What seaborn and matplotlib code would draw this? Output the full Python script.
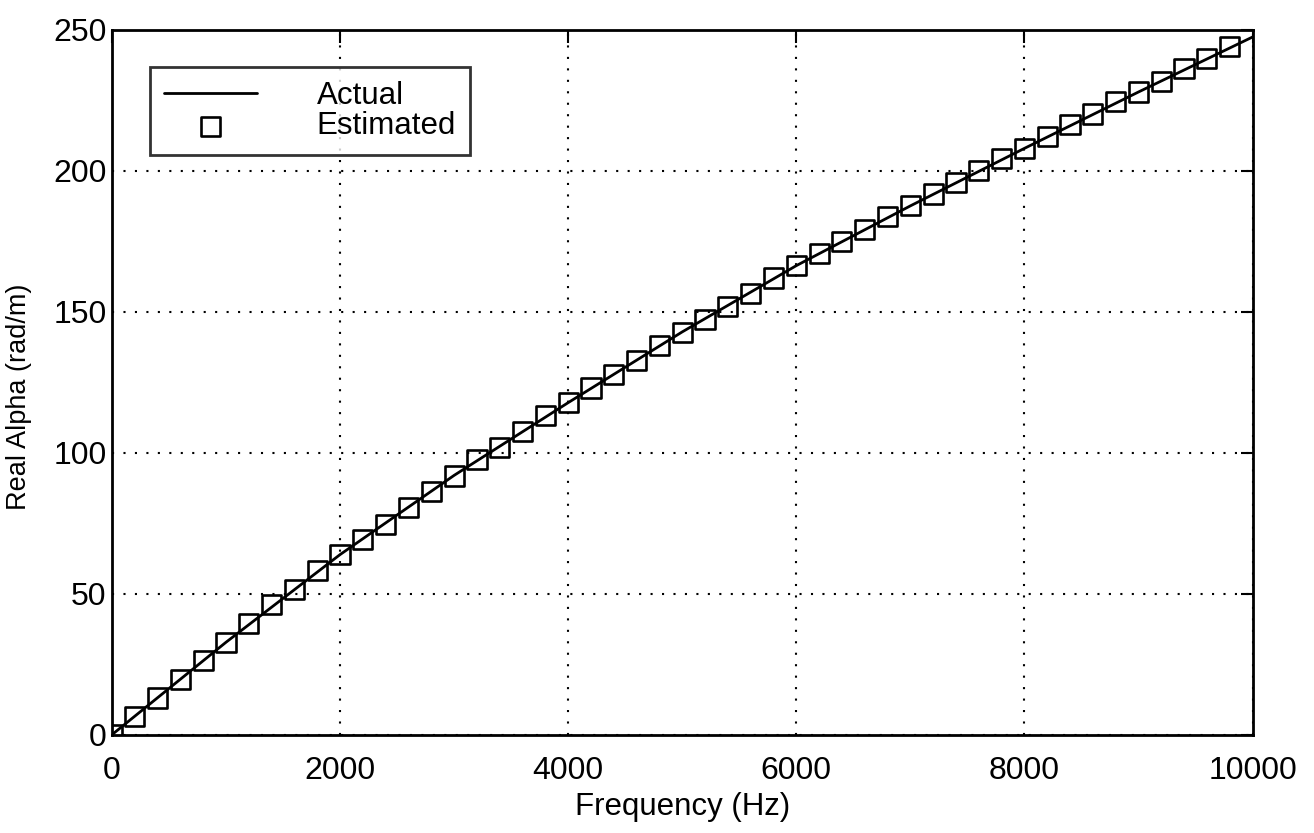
import numpy as np
import pandas as pd
import matplotlib
matplotlib.use("Agg")
import matplotlib.pyplot as plt
import seaborn as sns

# actual curve (Hz -> rad/m)
freq_actual = [0, 1000, 2000, 3000, 4000, 5000, 6000, 7000, 8000, 9000, 10000]
alpha_actual = [0, 32.8, 63.9, 92.0, 117.8, 142.9, 166.4, 187.6, 208.0, 228.0, 247.5]

# estimated points, every 200 Hz
freq_est = [0, 200, 400, 600, 800, 1000, 1200, 1400, 1600, 1800,
            2000, 2200, 2400, 2600, 2800, 3000, 3200, 3400, 3600, 3800,
            4000, 4200, 4400, 4600, 4800, 5000, 5200, 5400, 5600, 5800,
            6000, 6200, 6400, 6600, 6800, 7000, 7200, 7400, 7600, 7800,
            8000, 8200, 8400, 8600, 8800, 9000, 9200, 9400, 9600, 9800]
alpha_est = [0, 6.5, 13.0, 19.7, 26.2, 32.8, 39.6, 46.2, 51.5, 58.2,
             63.9, 69.3, 74.6, 80.5, 86.4, 91.8, 97.6, 102.0, 107.6, 113.2,
             117.8, 123.0, 127.8, 132.9, 138.1, 142.8, 147.4, 152.0, 156.6, 162.0,
             166.4, 170.8, 174.9, 179.2, 183.8, 187.6, 191.8, 196.0, 200.2, 204.3,
             208.0, 212.3, 216.4, 220.2, 224.6, 228.0, 231.8, 236.2, 240.0, 244.0]

x_ticks = [0, 2000, 4000, 6000, 8000, 10000]
y_ticks = [0, 50, 100, 150, 200, 250]

df_actual = pd.DataFrame({"freq": freq_actual, "alpha": alpha_actual})
df_est = pd.DataFrame({"freq": freq_est, "alpha": alpha_est})

sns.set_theme(style="white")
plt.rcParams["font.family"] = ["Liberation Sans", "DejaVu Sans"]
plt.rcParams.update({"text.color": "black", "axes.labelcolor": "black",
                     "xtick.color": "black", "ytick.color": "black"})

fig = plt.figure(figsize=(13.14, 8.33), dpi=100)
ax = fig.add_axes([0.0852, 0.118, 0.868, 0.846])

sns.lineplot(data=df_actual, x="freq", y="alpha", ax=ax, color="black",
             linewidth=2.0, label="Actual")
sns.scatterplot(data=df_est, x="freq", y="alpha", ax=ax, marker="s", s=190,
                facecolors="none", edgecolor="black", linewidth=1.9,
                label="Estimated", zorder=3)

ax.set_xlim(0, 10000)
ax.set_ylim(0, 250)
ax.set_xticks(x_ticks)
ax.set_yticks(y_ticks)
ax.set_xlabel("Frequency (Hz)", fontsize=22.5, labelpad=5)
ax.set_ylabel("Real Alpha (rad/m)", fontsize=19.5)
ax.yaxis.set_label_coords(-0.070, 0.48)
ax.tick_params(axis="both", labelsize=23, direction="in", length=9, width=1.5,
               top=True, right=True)
ax.tick_params(axis="x", pad=15)
ax.tick_params(axis="y", pad=4)

ax.grid(True, color="black", linestyle=(0, (1, 4.5)), linewidth=1.5)
for sp in ax.spines.values():
    sp.set_color("black")
    sp.set_linewidth(2.0)

leg = ax.legend(loc="upper left", bbox_to_anchor=(0.033, 0.947), fontsize=22.5,
                frameon=True, fancybox=False, edgecolor="black",
                handlelength=3.0, handletextpad=1.9, labelspacing=0.0,
                borderpad=0.45, borderaxespad=0)
leg.get_frame().set_linewidth(2.0)

fig.savefig("out.png", dpi=100, facecolor="white")
